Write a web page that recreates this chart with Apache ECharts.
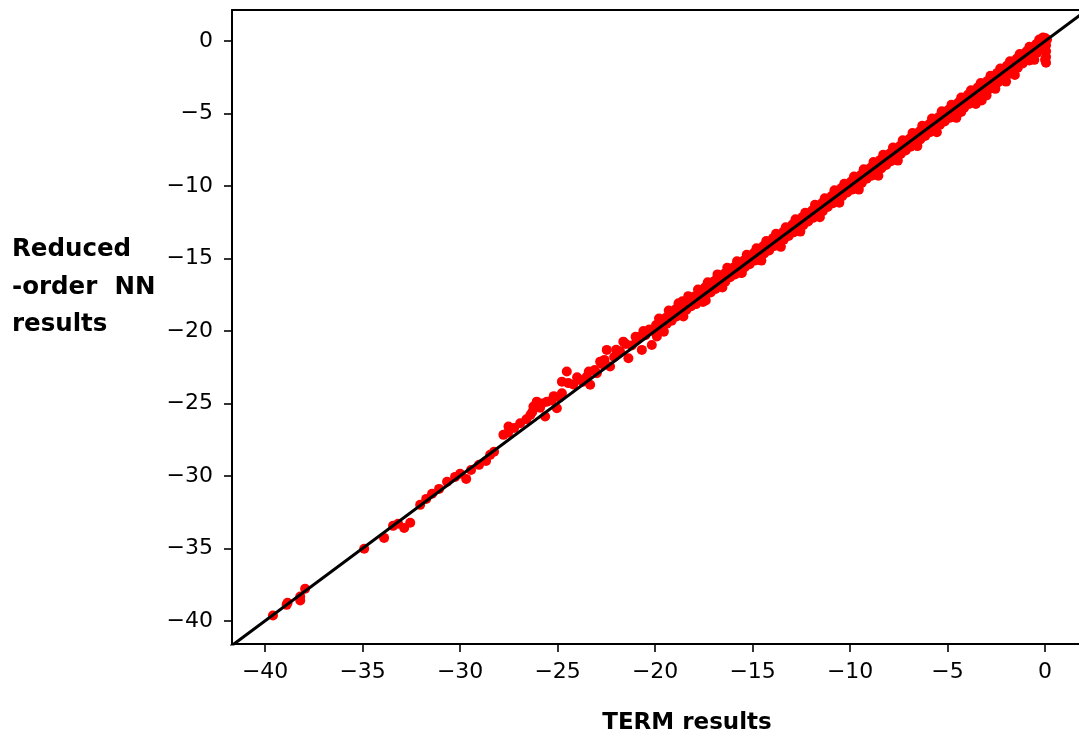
<!DOCTYPE html>
<html><head><meta charset="utf-8">
<script src="https://cdn.jsdelivr.net/npm/echarts@6/dist/echarts.min.js"></script>
<style>html,body{margin:0;padding:0;background:#fff}#c{width:1079px;height:740px}</style>
</head><body><div id="c"></div>
<script>
// TERM results (x) and Reduced-order NN results (y)
const termResults = [
 -39.6,-38.9,-38.85,-38.2,-38.2,-37.95,
 -34.92,-33.9,-33.44,-33.18,-32.87,-32.56,
 -32.05,-31.74,-31.44,-31.08,-30.67,-30.26,-30.0,-29.69,-29.44,-29.03,-28.67,-28.46,-28.26,
 -27.78,-27.54,-27.52,-27.23,-26.92,-26.6,-26.4,-26.24,-26.07,-25.9,-25.64,-25.55,-25.3,-25.04,
 -24.9,-24.78,-24.78,-24.53,-24.45,-24.2,-23.85,-23.7,-23.5,-23.33,-23.1,-22.99,-22.82,-22.7,
 -22.48,-22.31,-22.1,-21.96,-21.8,-21.63,-21.37,-21.2,-20.94,-20.8,-20.68,-20.5,-20.3,-20.17,-20.1,-19.91,
 -19.95,-19.9,-19.7,-19.65,-19.45,-19.4,-19.2,-19.15,-18.95,-18.9,-18.7,-18.65,-18.45,-18.4,-18.2,-18.15,
 -17.95,-17.9,-17.7,-17.65,-17.45,-17.4,-17.2,-17.15,-16.95,-16.9,-16.7,-16.65,-16.45,-16.4,-16.2,-16.15,
 -15.95,-15.9,-15.7,-15.65,-15.45,-15.4,-15.2,-15.15,-18.6,-17.4,-16.8,-15.6,
 -14.95,-14.9,-14.7,-14.65,-14.45,-14.4,-14.2,-14.15,-13.95,-13.9,-13.7,-13.65,-13.45,-13.4,-13.2,-13.15,
 -12.95,-12.9,-12.7,-12.65,-12.45,-12.4,-12.2,-12.15,-11.95,-11.9,-11.7,-11.65,-11.45,-11.4,-11.2,-11.15,
 -10.95,-10.9,-10.7,-10.65,-10.45,-10.4,-10.2,-10.15,
 -9.95,-9.9,-9.7,-9.65,-9.45,-9.4,-9.2,-9.15,-8.95,-8.9,-8.7,-8.65,-8.45,-8.4,-8.2,-8.15,
 -7.95,-7.9,-7.7,-7.65,-7.45,-7.4,-7.2,-7.15,-6.95,-6.9,-6.7,-6.65,-6.45,-6.4,-6.2,-6.15,
 -5.95,-5.9,-5.7,-5.65,-5.45,-5.4,-5.2,-5.15,
 -4.95,-4.9,-4.7,-4.65,-4.45,-4.4,-4.2,-4.15,-3.95,-3.9,-3.7,-3.65,-3.45,-3.4,-3.2,-3.15,
 -2.95,-2.9,-2.7,-2.65,-2.45,-2.4,-2.2,-2.15,-1.95,-1.9,-1.7,-1.65,-1.45,-1.4,-1.2,-1.15,
 -0.95,-0.9,-0.7,-0.65,-0.45,-0.4,-0.2,-0.15,0.0,0.05,0.05,0.05,0.05,0.0,0.1,-0.1,
 -3.25,-2.15,-0.8,-4.3,
 -19.8,-19.3,-18.8,-18.3,-17.8,-17.3,-16.8,-16.3,-15.8,-15.3,
 -19.55,-18.55,-17.55,-16.55,-15.55,
 -14.8,-14.3,-13.8,-13.3,-12.8,-12.3,-11.8,-11.3,-10.8,-10.3,
 -14.55,-13.55,-12.55,-11.55,-10.55,
 -9.8,-9.3,-8.8,-8.3,-7.8,-7.3,-6.8,-6.3,-5.8,-5.3,
 -9.55,-8.55,-7.55,-6.55,-5.55,
 -4.8,-4.3,-3.8,-3.3,-2.8,-2.3,-1.8,-1.3,-0.8,-0.3,
 -4.55,-3.55,-2.55,-1.55,-0.55,-2.0,-3.0,
 -22.0,-21.5,-21.0,-20.6,-22.6,-23.4,-24.0,-25.2,-25.8,-26.3
];
const nnResults = [
 -39.63,-38.9,-38.75,-38.32,-38.6,-37.79,
 -35.03,-34.28,-33.45,-33.31,-33.59,-33.24,
 -32.0,-31.59,-31.24,-30.9,-30.41,-30.07,-29.86,-30.21,-29.59,-29.24,-28.97,-28.55,-28.34,
 -27.17,-27.03,-26.6,-26.69,-26.37,-26.1,-25.8,-25.22,-24.88,-25.3,-25.91,-24.88,-24.8,-25.33,
 -24.6,-24.3,-23.5,-22.8,-23.6,-23.7,-23.38,-23.5,-23.15,-23.72,-22.7,-22.92,-22.12,-22.3,
 -21.31,-22.46,-21.8,-21.54,-21.4,-20.74,-21.88,-21.0,-20.62,-20.4,-21.31,-20.3,-19.9,-20.97,-20.0,-20.39,
 -19.6,-20.1,-19.3,-19.75,-19.1,-19.5,-18.85,-19.3,-18.5,-19.0,-18.2,-18.75,-18.1,-18.55,-17.85,-18.3,
 -17.6,-18.15,-17.35,-17.85,-17.0,-17.5,-16.85,-17.35,-16.55,-17.1,-16.35,-16.8,-16.05,-16.6,-15.85,-16.3,
 -15.6,-16.1,-15.4,-15.85,-15.15,-15.6,-14.9,-15.4,-17.95,-17.9,-16.3,-16.0,
 -14.65,-15.15,-14.4,-14.9,-14.15,-14.65,-13.9,-14.45,-13.6,-14.15,-13.4,-13.9,-13.2,-13.7,-12.9,-13.45,
 -12.65,-13.2,-12.45,-12.95,-12.15,-12.7,-11.95,-12.45,-11.7,-12.2,-11.4,-11.95,-11.2,-11.75,-10.9,-11.45,
 -10.7,-11.2,-10.4,-10.95,-10.15,-10.7,-9.95,-10.45,
 -9.7,-10.25,-9.45,-10.0,-9.25,-9.8,-8.95,-9.5,-8.75,-9.3,-8.5,-9.0,-8.2,-8.8,-8.0,-8.55,
 -7.75,-8.3,-7.45,-8.0,-7.25,-7.8,-7.0,-7.55,-6.75,-7.3,-6.5,-7.05,-6.25,-6.8,-6.0,-6.55,
 -5.75,-6.3,-5.5,-6.05,-5.25,-5.8,-5.0,-5.55,
 -4.75,-5.3,-4.5,-5.05,-4.25,-4.85,-4.0,-4.6,-3.7,-4.35,-3.5,-4.05,-3.2,-3.9,-3.0,-3.6,
 -2.75,-3.35,-2.45,-3.1,-2.2,-2.85,-1.95,-2.6,-1.7,-2.3,-1.45,-2.1,-1.2,-1.85,-0.95,-1.55,
 -0.7,-1.3,-0.45,-1.05,-0.2,-0.8,0.05,-0.55,0.2,-0.3,-0.7,-1.1,-1.5,-1.3,0.1,0.25,
 -4.1,-2.5,-1.35,-4.9,
 -19.15,-18.6,-18.1,-17.6,-17.15,-16.65,-16.1,-15.65,-15.2,-14.75,
 -20.05,-19.0,-18.0,-17.0,-16.0,
 -14.3,-13.8,-13.3,-12.85,-12.3,-11.85,-11.3,-10.85,-10.3,-9.85,
 -15.15,-14.2,-13.15,-12.15,-11.15,
 -9.35,-8.85,-8.35,-7.85,-7.35,-6.85,-6.35,-5.85,-5.35,-4.85,
 -10.25,-9.3,-8.25,-7.25,-6.3,
 -4.4,-3.9,-3.4,-2.9,-2.4,-1.9,-1.4,-0.9,-0.4,0.1,
 -5.3,-4.35,-3.3,-2.35,-1.3,-2.8,-3.75,
 -21.3,-20.9,-20.4,-20.0,-22.0,-22.8,-23.2,-24.5,-25.0,-25.6
];
const tickValues = [-40,-35,-30,-25,-20,-15,-10,-5,0];
const identityEnds = [-45,5];

const points = termResults.map((t,i)=>[t,nnResults[i]]);
const fmt = v => String(v).replace('-','\u2212');
const axisCommon = {
  type:'value',
  splitLine:{show:false},
  axisLine:{show:true,onZero:false,lineStyle:{color:'#000',width:2}},
  axisTick:{show:true,length:8,lineStyle:{color:'#000',width:1.6},customValues:tickValues},
  axisLabel:{color:'#000',fontFamily:'DejaVu Sans',fontSize:22,formatter:fmt,customValues:tickValues}
};
const chart = echarts.init(document.getElementById('c'),null,{renderer:'canvas'});
chart.setOption({
  animation:false,
  backgroundColor:'#fff',
  title:[
    {text:'TERM results',left:687,textAlign:'center',top:712,padding:0,
     textStyle:{fontFamily:'DejaVu Sans',fontWeight:'bold',fontSize:23,color:'#000'}},
    {text:'Reduced\n-order  NN\nresults',left:12,top:231,padding:0,
     textStyle:{fontFamily:'DejaVu Sans',fontWeight:'bold',fontSize:24.5,lineHeight:37.5,color:'#000'}}
  ],
  grid:{left:232,top:10,right:0,bottom:96,show:false,containLabel:false},
  xAxis:[
    Object.assign({},axisCommon,{min:-41.7,max:1.74,
      axisLabel:Object.assign({},axisCommon.axisLabel,{margin:17})}),
    {type:'value',position:'top',min:-41.7,max:1.74,splitLine:{show:false},
     axisLine:{show:true,onZero:false,lineStyle:{color:'#000',width:2}},
     axisTick:{show:false},axisLabel:{show:false}}
  ],
  yAxis:Object.assign({},axisCommon,{min:-41.6,max:2.14,
    axisLabel:Object.assign({},axisCommon.axisLabel,{margin:19})}),
  series:[
    {type:'scatter',data:points,symbol:'circle',symbolSize:10,itemStyle:{color:'#ff0000',opacity:1},z:2},
    {type:'line',data:identityEnds.map(v=>[v,v]),symbol:'none',clip:true,
     lineStyle:{color:'#000',width:3},z:3}
  ]
});
</script></body></html>
